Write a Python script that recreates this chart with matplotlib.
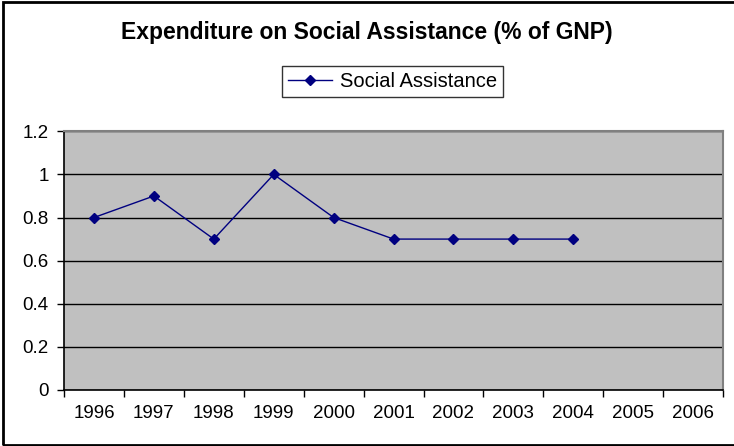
import numpy as np
import matplotlib.pyplot as plt
from matplotlib.patches import Rectangle

plt.rcParams['font.family'] = ['Liberation Sans', 'DejaVu Sans']

years = ['1996', '1997', '1998', '1999', '2000', '2001', '2002', '2003', '2004', '2005', '2006']
social_assistance = [0.8, 0.9, 0.7, 1.0, 0.8, 0.7, 0.7, 0.7, 0.7, np.nan, np.nan]

fig = plt.figure(figsize=(7.34, 4.46), dpi=100)
ax = fig.add_axes([0.0872, 0.1256, 0.898, 0.580])
ax.set_facecolor('#c0c0c0')

x = np.arange(len(years))
ax.plot(x, social_assistance, color='#000080', linewidth=1.0, marker='D',
        markersize=5, label='Social Assistance')

# category axis: ticks on the boundaries, labels centred in each slot
ax.set_xlim(-0.5, len(years) - 0.5)
ax.set_xticks(np.arange(-0.5, len(years), 1.0))
ax.set_xticklabels([])
ax.set_xticks(x, minor=True)
ax.set_xticklabels(years, minor=True)
ax.tick_params(axis='x', which='major', direction='out', length=5, width=1, color='black')
ax.tick_params(axis='x', which='minor', length=0, labelsize=13.5, pad=11)

ax.set_ylim(0, 1.2)
ax.set_yticks(np.arange(0, 1.21, 0.2))
ax.set_yticklabels(['0', '0.2', '0.4', '0.6', '0.8', '1', '1.2'])
ax.tick_params(axis='y', direction='out', length=5, width=1, labelsize=13.5, pad=6)

ax.yaxis.grid(True, color='black', linewidth=1.0)
ax.set_axisbelow(True)

ax.spines['left'].set_color('black')
ax.spines['bottom'].set_color('black')
ax.spines['left'].set_linewidth(1.2)
ax.spines['bottom'].set_linewidth(1.2)
ax.spines['top'].set_color('#808080')
ax.spines['right'].set_color('#808080')
ax.spines['top'].set_linewidth(1.5)
ax.spines['right'].set_linewidth(1.5)

fig.text(0.5, 0.928, 'Expenditure on Social Assistance (% of GNP)', ha='center',
         va='center', fontsize=16.5, fontweight='bold')

leg = ax.legend(loc='center', bbox_to_anchor=(0.5345, 0.818), bbox_transform=fig.transFigure,
                fontsize=14.5, frameon=True, fancybox=False, edgecolor='black',
                handlelength=2.2, borderpad=0.3, handletextpad=0.4)
leg.get_frame().set_linewidth(1.0)

# chart border
fig.patches.append(Rectangle((0.004, 0.002), 1.2, 0.993, transform=fig.transFigure,
                             fill=False, edgecolor='black', linewidth=2.0))

fig.savefig('out.png', dpi=100)
